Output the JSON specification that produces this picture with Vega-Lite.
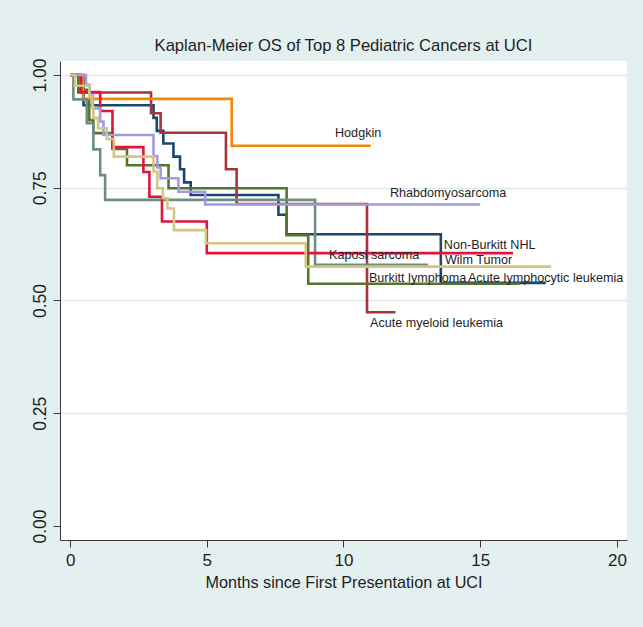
{
  "$schema": "https://vega.github.io/schema/vega-lite/v6.json",
  "width": 567,
  "height": 479,
  "autosize": {"type": "none"},
  "padding": {"left": 60, "top": 61, "right": 16, "bottom": 87},
  "background": "#E4EFF0",
  "view": {"fill": "#FFFFFF", "stroke": null},
  "title": {
    "text": "Kaplan-Meier OS of Top 8 Pediatric Cancers at UCI",
    "font": "Liberation Sans, Arial, sans-serif",
    "fontSize": 16.6,
    "fontWeight": "normal",
    "color": "#1E1E1E",
    "anchor": "middle",
    "baseline": "alphabetic",
    "offset": 9,
    "dy": 19
  },
  "datasets": {
    "curves": [
      {"g": "Acute lymphocytic leukemia", "t": 0, "s": 1},
      {"g": "Acute lymphocytic leukemia", "t": 0.49, "s": 0.933},
      {"g": "Acute lymphocytic leukemia", "t": 3.05, "s": 0.905},
      {"g": "Acute lymphocytic leukemia", "t": 3.17, "s": 0.876},
      {"g": "Acute lymphocytic leukemia", "t": 3.41, "s": 0.848},
      {"g": "Acute lymphocytic leukemia", "t": 3.78, "s": 0.819},
      {"g": "Acute lymphocytic leukemia", "t": 4.02, "s": 0.791},
      {"g": "Acute lymphocytic leukemia", "t": 4.17, "s": 0.762},
      {"g": "Acute lymphocytic leukemia", "t": 4.41, "s": 0.734},
      {"g": "Acute lymphocytic leukemia", "t": 7.62, "s": 0.69},
      {"g": "Acute lymphocytic leukemia", "t": 7.92, "s": 0.647},
      {"g": "Acute lymphocytic leukemia", "t": 13.56, "s": 0.539},
      {"g": "Acute lymphocytic leukemia", "t": 17.4, "s": 0.539},

      {"g": "Acute myeloid leukemia", "t": 0, "s": 1},
      {"g": "Acute myeloid leukemia", "t": 0.3, "s": 0.961},
      {"g": "Acute myeloid leukemia", "t": 2.96, "s": 0.915},
      {"g": "Acute myeloid leukemia", "t": 3.31, "s": 0.872},
      {"g": "Acute myeloid leukemia", "t": 5.7, "s": 0.791},
      {"g": "Acute myeloid leukemia", "t": 6.09, "s": 0.714},
      {"g": "Acute myeloid leukemia", "t": 10.86, "s": 0.474},
      {"g": "Acute myeloid leukemia", "t": 11.9, "s": 0.474},

      {"g": "Burkitt lymphoma", "t": 0, "s": 1},
      {"g": "Burkitt lymphoma", "t": 0.3, "s": 0.967},
      {"g": "Burkitt lymphoma", "t": 0.7, "s": 0.9},
      {"g": "Burkitt lymphoma", "t": 0.85, "s": 0.871},
      {"g": "Burkitt lymphoma", "t": 1.55, "s": 0.836},
      {"g": "Burkitt lymphoma", "t": 2.08, "s": 0.8},
      {"g": "Burkitt lymphoma", "t": 3.6, "s": 0.749},
      {"g": "Burkitt lymphoma", "t": 7.92, "s": 0.645},
      {"g": "Burkitt lymphoma", "t": 8.71, "s": 0.537},
      {"g": "Burkitt lymphoma", "t": 16.45, "s": 0.537},

      {"g": "Hodgkin", "t": 0, "s": 1},
      {"g": "Hodgkin", "t": 0.47, "s": 0.947},
      {"g": "Hodgkin", "t": 5.91, "s": 0.843},
      {"g": "Hodgkin", "t": 11.0, "s": 0.843},

      {"g": "Kaposi sarcoma", "t": 0, "s": 1},
      {"g": "Kaposi sarcoma", "t": 0.12, "s": 0.946},
      {"g": "Kaposi sarcoma", "t": 0.61, "s": 0.893},
      {"g": "Kaposi sarcoma", "t": 0.85, "s": 0.835},
      {"g": "Kaposi sarcoma", "t": 1.1, "s": 0.778},
      {"g": "Kaposi sarcoma", "t": 1.28, "s": 0.723},
      {"g": "Kaposi sarcoma", "t": 8.96, "s": 0.579},
      {"g": "Kaposi sarcoma", "t": 13.1, "s": 0.579},

      {"g": "Non-Burkitt NHL", "t": 0, "s": 1},
      {"g": "Non-Burkitt NHL", "t": 0.4, "s": 0.962},
      {"g": "Non-Burkitt NHL", "t": 1.1, "s": 0.92},
      {"g": "Non-Burkitt NHL", "t": 1.55, "s": 0.84},
      {"g": "Non-Burkitt NHL", "t": 2.68, "s": 0.785},
      {"g": "Non-Burkitt NHL", "t": 2.9, "s": 0.73},
      {"g": "Non-Burkitt NHL", "t": 3.36, "s": 0.675},
      {"g": "Non-Burkitt NHL", "t": 5.0, "s": 0.605},
      {"g": "Non-Burkitt NHL", "t": 16.2, "s": 0.605},

      {"g": "Rhabdomyosarcoma", "t": 0, "s": 1},
      {"g": "Rhabdomyosarcoma", "t": 0.58, "s": 0.978},
      {"g": "Rhabdomyosarcoma", "t": 0.71, "s": 0.956},
      {"g": "Rhabdomyosarcoma", "t": 0.83, "s": 0.926},
      {"g": "Rhabdomyosarcoma", "t": 1.1, "s": 0.897},
      {"g": "Rhabdomyosarcoma", "t": 1.22, "s": 0.867},
      {"g": "Rhabdomyosarcoma", "t": 3.05, "s": 0.82},
      {"g": "Rhabdomyosarcoma", "t": 3.19, "s": 0.795},
      {"g": "Rhabdomyosarcoma", "t": 3.31, "s": 0.771},
      {"g": "Rhabdomyosarcoma", "t": 3.96, "s": 0.741},
      {"g": "Rhabdomyosarcoma", "t": 4.94, "s": 0.713},
      {"g": "Rhabdomyosarcoma", "t": 15.0, "s": 0.713},

      {"g": "Wilm Tumor", "t": 0, "s": 1},
      {"g": "Wilm Tumor", "t": 0.18, "s": 0.976},
      {"g": "Wilm Tumor", "t": 0.7, "s": 0.952},
      {"g": "Wilm Tumor", "t": 0.8, "s": 0.929},
      {"g": "Wilm Tumor", "t": 0.85, "s": 0.905},
      {"g": "Wilm Tumor", "t": 1.02, "s": 0.882},
      {"g": "Wilm Tumor", "t": 1.34, "s": 0.858},
      {"g": "Wilm Tumor", "t": 1.6, "s": 0.819},
      {"g": "Wilm Tumor", "t": 3.05, "s": 0.786},
      {"g": "Wilm Tumor", "t": 3.19, "s": 0.749},
      {"g": "Wilm Tumor", "t": 3.39, "s": 0.727},
      {"g": "Wilm Tumor", "t": 3.56, "s": 0.704},
      {"g": "Wilm Tumor", "t": 3.8, "s": 0.656},
      {"g": "Wilm Tumor", "t": 4.97, "s": 0.627},
      {"g": "Wilm Tumor", "t": 8.62, "s": 0.575},
      {"g": "Wilm Tumor", "t": 17.6, "s": 0.575}
    ],
    "labels": [
      {"label": "Hodgkin", "t": 9.69, "s": 0.871},
      {"label": "Rhabdomyosarcoma", "t": 11.7, "s": 0.738},
      {"label": "Non-Burkitt NHL", "t": 13.67, "s": 0.623},
      {"label": "Wilm Tumor", "t": 13.71, "s": 0.59},
      {"label": "Kaposi sarcoma", "t": 9.47, "s": 0.601},
      {"label": "Burkitt lymphoma", "t": 10.93, "s": 0.55},
      {"label": "Acute lymphocytic leukemia", "t": 14.55, "s": 0.55},
      {"label": "Acute myeloid leukemia", "t": 10.97, "s": 0.45}
    ]
  },
  "layer": [
    {
      "data": {"name": "curves"},
      "mark": {"type": "line", "interpolate": "step-after", "strokeWidth": 2.6, "clip": true},
      "encoding": {
        "x": {
          "field": "t", "type": "quantitative",
          "scale": {"domain": [-0.37, 20.37], "nice": false, "zero": false},
          "axis": {
            "values": [0, 5, 10, 15, 20],
            "title": "Months since First Presentation at UCI",
            "titleFont": "Liberation Sans, Arial, sans-serif",
            "titleFontSize": 16.2,
            "titleFontWeight": "normal",
            "titleColor": "#1E1E1E",
            "titlePadding": 6,
            "labelFont": "Liberation Sans, Arial, sans-serif",
            "labelFontSize": 17,
            "labelColor": "#1E1E1E",
            "labelPadding": 5,
            "labelFlush": false,
            "tickSize": 7,
            "tickColor": "#3A3A3A",
            "domainColor": "#3A3A3A",
            "grid": false
          }
        },
        "y": {
          "field": "s", "type": "quantitative",
          "scale": {"domain": [-0.031, 1.031], "nice": false, "zero": false},
          "axis": {
            "values": [0, 0.25, 0.5, 0.75, 1],
            "format": ".2f",
            "title": null,
            "labelFont": "Liberation Sans, Arial, sans-serif",
            "labelFontSize": 17.5,
            "labelColor": "#1E1E1E",
            "labelAngle": 270,
            "labelAlign": "center",
            "labelBaseline": "bottom",
            "labelPadding": 4,
            "labelFlush": false,
            "tickSize": 7,
            "tickColor": "#3A3A3A",
            "domainColor": "#3A3A3A",
            "grid": true,
            "gridColor": "#DCEAEB",
            "gridWidth": 1.6,
            "gridOpacity": {"condition": {"test": "datum.value === 0", "value": 0}, "value": 1}
          }
        },
        "order": {"field": "t", "type": "quantitative"},
        "color": {
          "field": "g", "type": "nominal", "legend": null,
          "scale": {
            "domain": ["Acute lymphocytic leukemia", "Acute myeloid leukemia", "Burkitt lymphoma", "Hodgkin", "Kaposi sarcoma", "Non-Burkitt NHL", "Rhabdomyosarcoma", "Wilm Tumor"],
            "range": ["#1A476F", "#A8333D", "#55752F", "#F08A0A", "#6E8E84", "#E0143C", "#A29BE0", "#D2C683"]
          }
        }
      }
    },
    {
      "data": {"name": "labels"},
      "mark": {
        "type": "text",
        "align": "left",
        "baseline": "middle",
        "font": "Liberation Sans, Arial, sans-serif",
        "fontSize": 12.6,
        "color": "#1E1E1E"
      },
      "encoding": {
        "x": {"field": "t", "type": "quantitative"},
        "y": {"field": "s", "type": "quantitative"},
        "text": {"field": "label", "type": "nominal"}
      }
    }
  ]
}
